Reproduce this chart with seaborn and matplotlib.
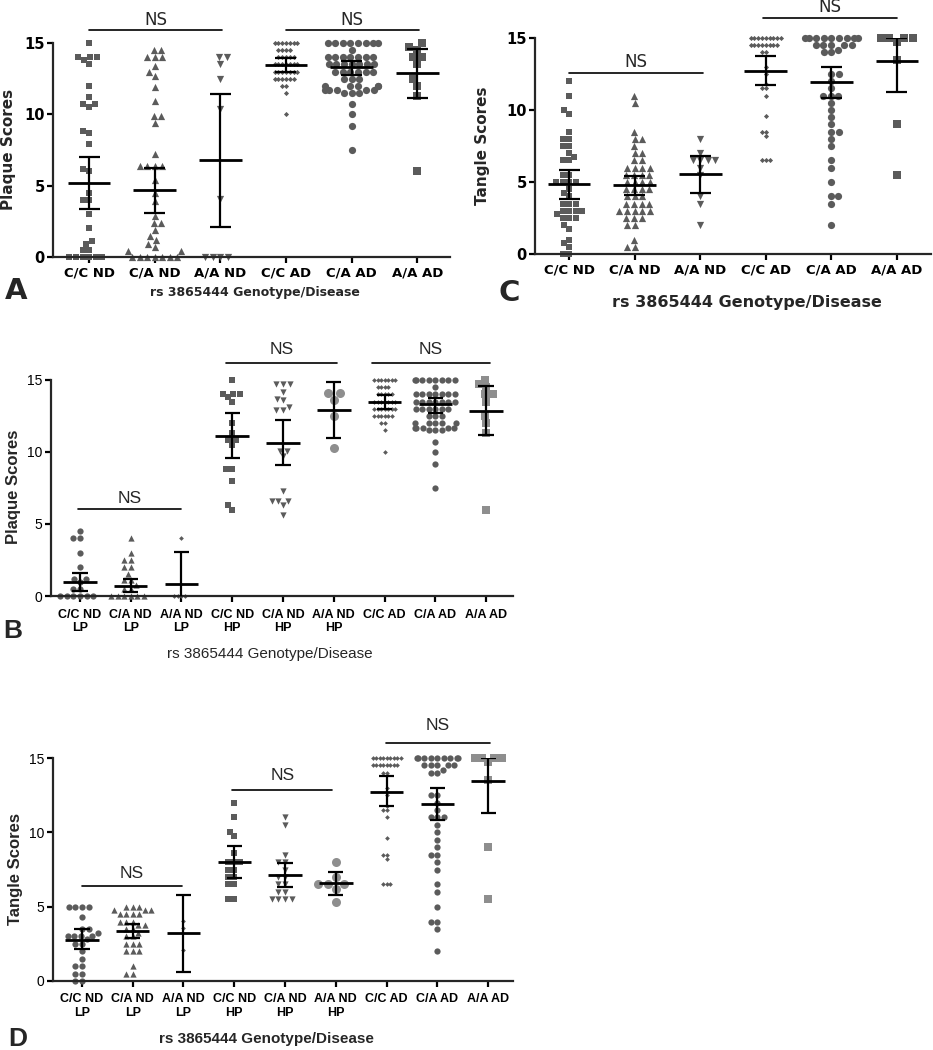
import warnings
import numpy as np
import seaborn as sns
import matplotlib.pyplot as plt

warnings.filterwarnings('ignore')  # swarm gutter warnings for the piles at 0 and 15

sns.set_style('ticks')
plt.rcParams['font.family'] = ['DejaVu Sans']

W, H = 933, 1050
DARK = '#5b5b5b'
LIGHT = '#8e8e8e'
WIDE = ['DejaVu Sans']
NARROW = ['Liberation Sans Narrow', 'Liberation Sans', 'DejaVu Sans']

# categories
cats_6 = ['C/C ND', 'C/A ND', 'A/A ND', 'C/C AD', 'C/A AD', 'A/A AD']
cats_9 = ['C/C ND\nLP', 'C/A ND\nLP', 'A/A ND\nLP', 'C/C ND\nHP', 'C/A ND\nHP',
          'A/A ND\nHP', 'C/C AD', 'C/A AD', 'A/A AD']

# plaque scores, ND / AD (panel A, AD reused in B)
plaque_cc_nd = [15, 14, 14, 14, 13.8, 13.5, 12, 11.2, 10.7, 10.7, 10.5, 8.8, 8.7, 7.9,
                6.2, 6.0, 4.5, 4.0, 4.0, 3.0, 2.0, 1.1, 0.9, 0.5, 0.5,
                0, 0, 0, 0, 0, 0]
plaque_ca_nd = [14.5, 14.5, 14, 14, 14, 13.4, 13.0, 12.7, 11.9, 10.9, 9.9, 9.9, 9.4, 7.2,
                6.4, 6.4, 6.4, 6.4, 5.4, 4.5, 3.9, 2.9, 2.4, 2.4, 1.9, 1.5, 1.2, 0.9,
                0.7, 0.4, 0.4, 0, 0, 0, 0, 0, 0, 0]
plaque_aa_nd = [14, 14, 13.5, 12.5, 10.35, 4.1, 0, 0, 0, 0]
plaque_cc_ad = [15, 15, 15, 15, 15, 15, 15, 14.5, 14.5, 14.5, 14.5, 14, 14, 14, 14, 14,
                13.5, 13.5, 13.5, 13.5, 13.5, 13.5, 13.5, 13, 13, 13, 13, 13, 13, 13,
                12.5, 12.5, 12.5, 12.5, 12.5, 12.5, 12, 12, 11.5, 10]
plaque_ca_ad = [15, 15, 15, 15, 15, 15, 15, 15, 14.5,
                14, 14, 14, 14, 14, 14, 14, 13.5, 13.5, 13.5, 13.5, 13.5, 13.5, 13.5,
                13, 13, 13, 13, 13, 13, 12.5, 12.5, 12.5,
                12, 12, 12, 12, 12, 11.7, 11.7, 11.7, 11.7, 11.7,
                11.5, 11.5, 11.5, 10.7, 10, 9.2, 7.5]
plaque_aa_ad = [15, 14.7, 14.5, 14, 14, 13.5, 12.5, 12, 11.3, 6]

# plaque scores, ND split by low / high plaque (panel B)
plaque_cc_nd_lp = [4.5, 4, 4, 3, 2, 1.2, 1.2, 1, 0.5, 0.5,
                   0, 0, 0, 0, 0, 0]
plaque_ca_nd_lp = [4, 3, 2.5, 2.5, 2, 2, 1.5, 1.1, 1.1, 0.75, 0.5, 0.5,
                   0, 0, 0, 0, 0, 0]
plaque_aa_nd_lp = [4, 0, 0, 0, 0]
plaque_cc_nd_hp = [15, 14, 14, 14, 13.8, 13.5, 12, 11.3, 10.8, 10.8, 10.5, 8.8, 8.8, 8,
                   6.3, 6.0]
plaque_ca_nd_hp = [14.7, 14.7, 14.7, 14.2, 13.7, 13.6, 13.1, 12.9, 12.9, 10.1, 10.1, 9.7,
                   7.3, 6.6, 6.6, 6.6, 6.3, 5.6]
plaque_aa_nd_hp = [14.1, 14.1, 13.6, 12.5, 10.3]

# tangle scores, ND / AD (panel C, AD reused in D)
tangle_cc_nd = [12, 11, 10, 9.75, 8.5, 8, 8, 7.5, 7.5, 7, 6.75, 6.5, 6.5, 5.5, 5.5, 5, 5,
                5, 5, 4.5, 4.25, 4, 3.5, 3.5, 3.5, 3, 3, 3, 3, 2.75, 2.5, 2.5, 2.5, 2,
                1.75, 1, 0.75, 0.5, 0, 0]
tangle_ca_nd = [11, 10.5, 8.5, 8, 8, 7.5, 7, 7, 6.5, 6.5, 6, 6, 6, 6, 5.5, 5.5, 5.5, 5.5,
                5, 5, 5, 5, 4.5, 4.5, 4.5, 4.5, 4, 4, 4, 3.5, 3.5, 3.5, 3.5, 3, 3, 3, 3,
                3, 2.5, 2.5, 2.5, 2, 2, 1, 0.5, 0.5]
tangle_aa_nd = [8, 7, 6.5, 6.5, 6.5, 6.5, 6, 5.5, 4, 3.5, 2]
tangle_cc_ad = [15, 15, 15, 15, 15, 15, 15, 15, 15,
                14.5, 14.5, 14.5, 14.5, 14.5, 14.5, 14.5, 14.5, 14, 14, 13, 12.5, 11.8,
                11.5, 11.5, 11, 9.6, 8.5, 8.5, 8.2, 6.5, 6.5, 6.5]
tangle_ca_ad = [15, 15, 15, 15, 15, 15, 15, 15, 15,
                14.5, 14.5, 14.5, 14.5, 14.5, 14.2, 14, 14, 12.5, 12.5, 12, 11.5, 11,
                11, 11, 10.5, 10, 9.5, 9, 8.5, 8.5, 8, 7.5, 6.5, 6, 5, 4, 4, 3.5, 2]
tangle_aa_ad = [15, 15, 15, 15, 14.7, 13.5, 9, 5.5]

# tangle scores, ND split by low / high plaque (panel D)
tangle_cc_nd_lp = [5, 5, 5, 5, 4.3, 3.5, 3.5, 3.2, 3, 3, 3, 3, 2.8, 2.5, 2.5, 2, 1.5, 1, 1,
                   0.5, 0.5, 0, 0]
tangle_ca_nd_lp = [5, 5, 5, 4.75, 4.75, 4.75, 4.5, 4.5, 4.5, 4.5, 4, 4, 4, 3.75, 3.75,
                   3.5, 3.5, 3.25, 3, 3, 2.5, 2.5, 2.5, 2, 2, 2, 1, 0.5, 0.5]
tangle_aa_nd_lp = [4.05, 3.55, 2.1]
tangle_cc_nd_hp = [12, 11, 10, 9.75, 8.6, 8, 8, 8, 7.5, 7.5, 7, 7, 6.5, 6.5, 5.5, 5.5]
tangle_ca_nd_hp = [11, 10.5, 8.5, 8, 8, 7.5, 7, 7, 6.5, 6.5, 6, 6, 5.5, 5.5, 5.5, 5.5]
tangle_aa_nd_hp = [8, 7, 6.5, 6.5, 6.5, 6.2, 5.3]

# mean and error bar ends
plaque_a_mean = [5.2, 4.67, 6.8, 13.48, 13.3, 12.88]
plaque_a_hi = [7.0, 6.24, 11.45, 13.95, 13.74, 14.6]
plaque_a_lo = [3.39, 3.1, 2.1, 13.0, 12.73, 11.15]
plaque_b_mean = [0.95, 0.69, 0.81, 11.1, 10.6, 12.9, 13.48, 13.3, 12.88]
plaque_b_hi = [1.62, 1.16, 3.03, 12.68, 12.2, 14.84, 13.95, 13.74, 14.6]
plaque_b_lo = [0.35, 0.3, -1.4, 9.6, 9.07, 10.95, 13.0, 12.73, 11.15]
tangle_c_mean = [4.84, 4.79, 5.53, 12.7, 11.92, 13.43]
tangle_c_hi = [5.83, 5.44, 6.83, 13.77, 13.0, 15.0]
tangle_c_lo = [3.8, 4.1, 4.21, 11.74, 10.8, 11.27]
tangle_d_mean = [2.76, 3.36, 3.2, 8.03, 7.13, 6.57, 12.7, 11.92, 13.43]
tangle_d_hi = [3.47, 3.83, 5.78, 9.08, 7.96, 7.35, 13.77, 13.0, 15.0]
tangle_d_lo = [2.13, 2.87, 0.63, 6.95, 6.35, 5.78, 11.74, 10.8, 11.27]

# marker styles per column
markers_6 = ['s', '^', 'v', 'D', 'o', 's']
sizes_6 = [4.5, 5.2, 5.2, 2.6, 5.2, 6.0]
colors_6 = [DARK] * 6
markers_9 = ['o', '^', 'D', 's', 'v', 'o', 'D', 'o', 's']
sizes_9 = [4.5, 4.5, 2.4, 4.2, 4.5, 6.5, 2.4, 4.5, 5.2]
colors_9 = [DARK, DARK, DARK, DARK, DARK, LIGHT, DARK, DARK, LIGHT]

fig = plt.figure(figsize=(W / 100, H / 100), dpi=100)


def add_ax(left, right, top, bottom):
    return fig.add_axes([left / W, 1 - bottom / H, (right - left) / W, (bottom - top) / H])


def fig_text(x, y, s, **kw):
    fig.text(x / W, 1 - y / H, s, ha='center', va='center', **kw)


def draw_panel(ax, cats, groups, means, his, los, markers, sizes, colors, xlim,
               mean_w, cap_w, font, tick_size, tick_weight, xpad):
    for cat, vals, m, s, c in zip(cats, groups, markers, sizes, colors):
        sns.swarmplot(x=[cat] * len(vals), y=vals, order=cats, marker=m, size=s,
                      color=c, linewidth=0, ax=ax, clip_on=False, zorder=2)
    pos = np.arange(len(cats))
    means, his, los = np.array(means), np.array(his), np.array(los)
    ax.vlines(pos, los, his, colors='black', lw=1.6, zorder=3)
    ax.hlines(his, pos - cap_w / 2, pos + cap_w / 2, colors='black', lw=1.6, zorder=3)
    ax.hlines(los, pos - cap_w / 2, pos + cap_w / 2, colors='black', lw=1.6, zorder=3)
    ax.hlines(means, pos - mean_w / 2, pos + mean_w / 2, colors='black', lw=2.0, zorder=3)
    ax.set_xlim(*xlim)
    ax.set_ylim(0, 15)
    ax.set_yticks([0, 5, 10, 15])
    ax.set_xticks(pos)
    ax.set_xticklabels(cats, family=font, fontsize=tick_size, fontweight='bold')
    ax.set_yticklabels(['0', '5', '10', '15'], family=font, fontsize=tick_size + 1,
                       fontweight=tick_weight)
    ax.set_xlabel('')
    ax.set_ylabel('')
    sns.despine(ax=ax)
    for side in ['left', 'bottom']:
        ax.spines[side].set_linewidth(1.6)
    ax.tick_params(axis='both', width=1.6, length=4.5, pad=1.5, colors='black')
    ax.tick_params(axis='x', pad=xpad)


def bracket(ax, x0, x1, y, ty, font, size):
    ax.plot([x0, x1], [y, y], color='black', lw=1.2, clip_on=False)
    ax.text((x0 + x1) / 2, ty, 'NS', ha='center', va='center', family=font,
            fontsize=size, clip_on=False)


# panel A
ax_a = add_ax(53, 450, 43, 257)
draw_panel(ax_a, cats_6, [plaque_cc_nd, plaque_ca_nd, plaque_aa_nd,
                          plaque_cc_ad, plaque_ca_ad, plaque_aa_ad],
           plaque_a_mean, plaque_a_hi, plaque_a_lo, markers_6, sizes_6, colors_6,
           (-0.55, 5.5), 0.65, 0.32, WIDE, 9.5, 'bold', 2.5)
bracket(ax_a, 0, 2.03, 15.9, 16.6, WIDE, 12)
bracket(ax_a, 3, 5.02, 15.9, 16.6, WIDE, 12)

# panel C
ax_c = add_ax(535, 931, 38, 254)
draw_panel(ax_c, cats_6, [tangle_cc_nd, tangle_ca_nd, tangle_aa_nd,
                          tangle_cc_ad, tangle_ca_ad, tangle_aa_ad],
           tangle_c_mean, tangle_c_hi, tangle_c_lo, markers_6, sizes_6, colors_6,
           (-0.52, 5.52), 0.65, 0.32, WIDE, 9.5, 'bold', 2.5)
bracket(ax_c, 0, 2.04, 12.57, 13.35, WIDE, 12)
bracket(ax_c, 2.95, 5.0, 16.4, 17.15, WIDE, 12)

# panel B
ax_b = add_ax(51, 513, 380, 596)
draw_panel(ax_b, cats_9, [plaque_cc_nd_lp, plaque_ca_nd_lp, plaque_aa_nd_lp,
                          plaque_cc_nd_hp, plaque_ca_nd_hp, plaque_aa_nd_hp,
                          plaque_cc_ad, plaque_ca_ad, plaque_aa_ad],
           plaque_b_mean, plaque_b_hi, plaque_b_lo, markers_9, sizes_9, colors_9,
           (-0.57, 8.53), 0.66, 0.3, NARROW, 9, 'normal', 4.5)
bracket(ax_b, -0.04, 2.0, 6.04, 6.8, NARROW, 12.5)
bracket(ax_b, 2.88, 5.06, 16.16, 17.1, NARROW, 12.5)
bracket(ax_b, 5.75, 8.08, 16.16, 17.1, NARROW, 12.5)

# panel D
ax_d = add_ax(53, 513, 758, 981)
draw_panel(ax_d, cats_9, [tangle_cc_nd_lp, tangle_ca_nd_lp, tangle_aa_nd_lp,
                          tangle_cc_nd_hp, tangle_ca_nd_hp, tangle_aa_nd_hp,
                          tangle_cc_ad, tangle_ca_ad, tangle_aa_ad],
           tangle_d_mean, tangle_d_hi, tangle_d_lo, markers_9, sizes_9, colors_9,
           (-0.57, 8.49), 0.66, 0.3, NARROW, 9, 'normal', 4.5)
bracket(ax_d, 0, 1.97, 6.39, 7.26, NARROW, 12.5)
bracket(ax_d, 2.96, 4.93, 12.84, 13.8, NARROW, 12.5)
bracket(ax_d, 5.99, 8.04, 16.0, 17.2, NARROW, 12.5)

# axis titles and panel letters
fig_text(9, 149, 'Plaque Scores', rotation=90, fontsize=11, fontweight='bold', family=WIDE)
fig_text(482, 146, 'Tangle Scores', rotation=90, fontsize=11, fontweight='bold', family=WIDE)
fig_text(14, 487, 'Plaque Scores', rotation=90, fontsize=12, fontweight='bold',
         family=['Liberation Sans'])
fig_text(16, 869, 'Tangle Scores', rotation=90, fontsize=12, fontweight='bold',
         family=['Liberation Sans'])

fig_text(255, 293, 'rs 3865444 Genotype/Disease', fontsize=9, fontweight='bold', family=WIDE)
fig_text(747, 302, 'rs 3865444 Genotype/Disease', fontsize=11.5, fontweight='bold', family=WIDE)
fig_text(270, 654, 'rs 3865444 Genotype/Disease', fontsize=11, family=NARROW)
fig_text(266, 1039, 'rs 3865444 Genotype/Disease', fontsize=11, fontweight='bold', family=NARROW)

fig_text(16, 291, 'A', fontsize=21, fontweight='bold', family=WIDE)
fig_text(509, 293, 'C', fontsize=21, fontweight='bold', family=WIDE)
fig_text(13, 631, 'B', fontsize=19, fontweight='bold', family=NARROW)
fig_text(18, 1039, 'D', fontsize=19, fontweight='bold', family=NARROW)

fig.savefig('out.png', dpi=100, facecolor='white')
